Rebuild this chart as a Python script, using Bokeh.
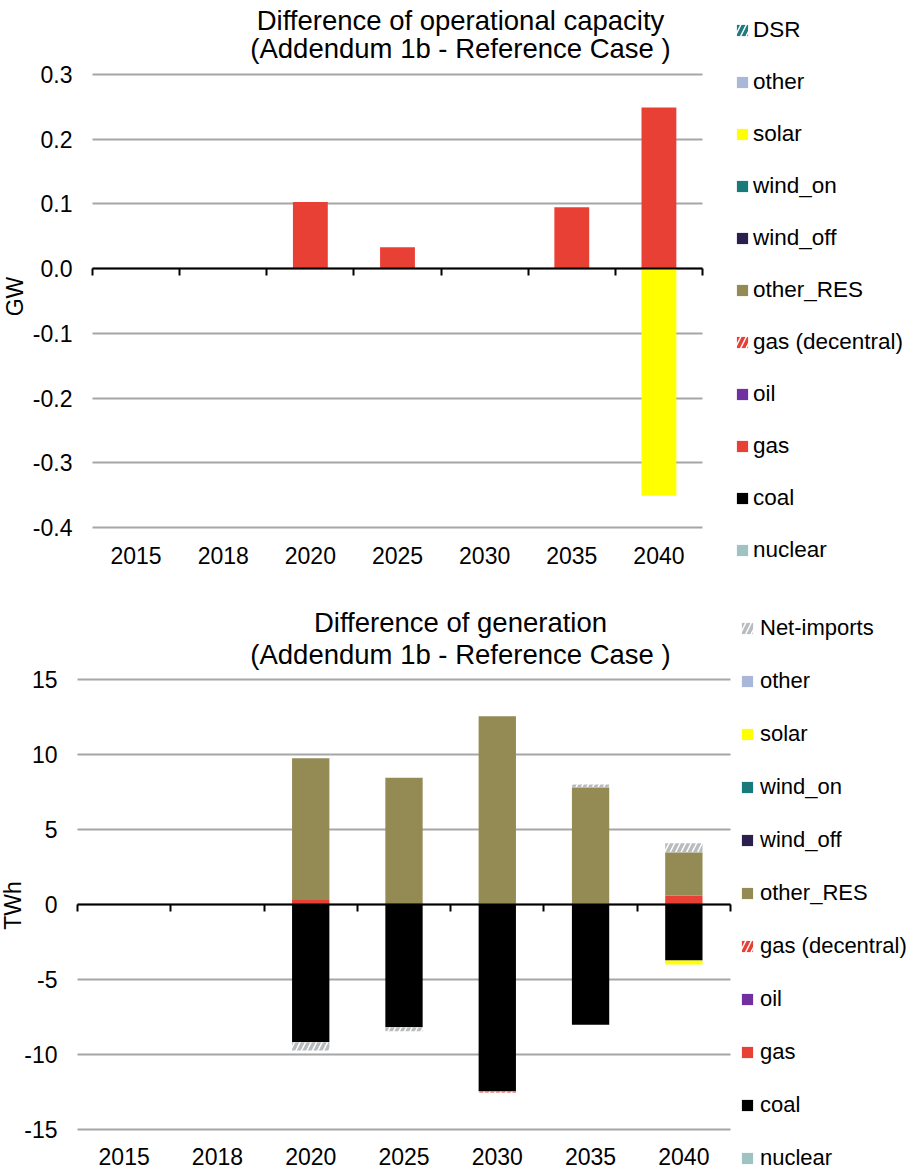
import numpy as np
from bokeh.plotting import figure
from bokeh.models import (Range1d, LinearAxis, FixedTicker, Legend, LegendItem, Label,
                          Grid, PrintfTickFormatter)
from bokeh.embed import file_html
from bokeh.resources import INLINE

years = ["2015", "2018", "2020", "2025", "2030", "2035", "2040"]

# ---- operational capacity difference (GW) ----
cap_nuclear = [0, 0, 0, 0, 0, 0, 0]
cap_coal = [0, 0, 0, 0, 0, 0, 0]
cap_gas = [0, 0, 0.103, 0.033, 0, 0.095, 0.249]
cap_oil = [0, 0, 0, 0, 0, 0, 0]
cap_gas_decentral = [0, 0, 0, 0, 0, 0, 0]
cap_other_res = [0, 0, 0, 0, 0, 0, 0]
cap_wind_off = [0, 0, 0, 0, 0, 0, 0]
cap_wind_on = [0, 0, 0, 0, 0, 0, 0]
cap_solar = [0, 0, 0, 0, 0, 0, -0.351]
cap_other = [0, 0, 0, 0, 0, 0, 0]
cap_dsr = [0, 0, 0, 0, 0, 0, 0]
cap_ticks = [-0.4, -0.3, -0.2, -0.1, 0.0, 0.1, 0.2, 0.3]

# ---- generation difference (TWh) ----
gen_nuclear = [0, 0, 0, 0, 0, 0, 0]
gen_coal = [0, 0, -9.18, -8.18, -12.47, -8.02, -3.73]
gen_gas = [0, 0, 0.3, 0.1, 0, 0, 0.6]
gen_oil = [0, 0, 0, 0, 0, 0, 0]
gen_gas_decentral = [0, 0, 0, 0, -0.06, 0, 0]
gen_other_res = [0, 0, 9.45, 8.35, 12.55, 7.82, 2.89]
gen_wind_off = [0, 0, 0, 0, 0, 0, 0]
gen_wind_on = [0, 0, 0, 0, 0, 0, 0]
gen_solar = [0, 0, 0, 0, 0, 0, -0.27]
gen_other = [0, 0, 0, 0, 0, 0, 0]
gen_net_imports = [0, 0, -0.55, -0.27, 0, 0.18, 0.6]
gen_ticks = [-15, -10, -5, 0, 5, 10, 15]

title_top = ["Difference of operational capacity", "(Addendum 1b - Reference Case )"]
title_bottom = ["Difference of generation", "(Addendum 1b - Reference Case )"]

STYLE = {
    "nuclear": ("#9fc3c3", None),
    "coal": ("#000000", None),
    "gas": ("#e94035", None),
    "oil": ("#7030a0", None),
    "gas (decentral)": ("#e94035", "hatch"),
    "other_RES": ("#948a54", None),
    "wind_off": ("#2b1f4d", None),
    "wind_on": ("#187a7a", None),
    "solar": ("#ffff00", None),
    "other": ("#a9b8d8", None),
    "DSR": ("#217a80", "hatch"),
    "Net-imports": ("#b8bcbe", "hatch"),
}

FONT = "Liberation Sans"
W = 910
LABEL_H = 26


def make_chart(names, data, ylim, ticks, fmt, ylabel, titles, H, fx0, fx1, fy0, fy1,
               title_base, ylabel_pos, legend_x, legend_top, legend_step, legend_standoff,
               legend_font, label_standoff):
    n = len(years)
    sx = (fx1 - fx0) / n                      # px per category
    sy = (fy1 - fy0) / (ylim[1] - ylim[0])    # px per value unit

    def X(px):
        return (px - fx0) / sx

    def Y(py):
        return ylim[1] - (py - fy0) / sy

    p = figure(width=W, height=H, x_range=Range1d(X(0), X(W)), y_range=Range1d(Y(H), Y(0)),
               output_backend="svg", toolbar_location=None, title=None,
               x_axis_location=None, y_axis_location=None,
               min_border_left=0, min_border_right=0, min_border_top=0, min_border_bottom=0)
    p.outline_line_color = None
    p.xgrid.visible = False
    p.ygrid.visible = False

    centers = list(np.arange(n) + 0.5)
    bounds = list(np.arange(n + 1).astype(float))

    p.add_layout(Grid(dimension=1, ticker=FixedTicker(ticks=ticks), cross_bounds=(0, n),
                      grid_line_color="#a6a6a6", grid_line_width=2))

    yax = LinearAxis(fixed_location=0, ticker=FixedTicker(ticks=ticks),
                     formatter=PrintfTickFormatter(format=fmt),
                     axis_line_color=None, major_tick_line_color=None, minor_tick_line_color=None,
                     major_tick_out=0, major_tick_in=0, major_label_standoff=20,
                     major_label_text_font=FONT, major_label_text_font_size="23px",
                     major_label_text_color="black")
    p.add_layout(yax, "left")

    xax = LinearAxis(fixed_location=ylim[0], ticker=FixedTicker(ticks=centers),
                     major_label_overrides={float(c): y for c, y in zip(centers, years)},
                     axis_line_color=None, major_tick_line_color=None, minor_tick_line_color=None,
                     major_tick_out=0, major_tick_in=0, major_label_standoff=label_standoff,
                     major_label_text_font=FONT, major_label_text_font_size="23px",
                     major_label_text_color="black")
    p.add_layout(xax, "below")

    zax = LinearAxis(fixed_location=0, bounds=(0, n), ticker=FixedTicker(ticks=bounds),
                     major_label_overrides={float(b): "" for b in bounds},
                     axis_line_color="black", axis_line_width=2,
                     major_tick_line_color="black", major_tick_line_width=2,
                     major_tick_in=0, major_tick_out=7, minor_tick_line_color=None)
    p.add_layout(zax, "below")

    pos_base = np.zeros(n)
    neg_base = np.zeros(n)
    items = []
    for name in names:
        v = np.array(data[name], dtype=float)
        color, hatch = STYLE[name]
        pos = np.clip(v, 0, None)
        neg = np.clip(v, None, 0)
        if hatch:
            kw = dict(fill_color="white", hatch_color=color, hatch_pattern="right_diagonal_line",
                      hatch_scale=11, hatch_weight=3.5, line_color=None)
        else:
            kw = dict(fill_color=color, line_color=None)
        r = p.vbar(x=centers, width=0.4, bottom=list(pos_base), top=list(pos_base + pos), **kw)
        p.vbar(x=centers, width=0.4, bottom=list(neg_base + neg), top=list(neg_base), **kw)
        pos_base = pos_base + pos
        neg_base = neg_base + neg
        items.append(LegendItem(label=name, renderers=[r]))

    k = len(items)
    spacing = legend_step - LABEL_H
    legend_bottom = legend_top + k * LABEL_H + (k - 1) * spacing
    legend = Legend(items=list(reversed(items)),
                    location=(legend_x, H - legend_bottom),
                    glyph_width=14, glyph_height=14, label_height=LABEL_H, spacing=spacing,
                    padding=0, margin=0, border_line_color=None, background_fill_alpha=0,
                    label_text_font=FONT, label_text_font_size=legend_font,
                    label_standoff=legend_standoff, label_text_color="black")
    p.add_layout(legend)

    for txt, base in zip(titles, title_base):
        p.add_layout(Label(x=X(460), y=Y(base), text=txt,
                           text_align="center", text_baseline="alphabetic", text_font=FONT,
                           text_font_size="27.5px", text_color="black"))
    p.add_layout(Label(x=X(ylabel_pos[0]), y=Y(ylabel_pos[1]), text=ylabel, angle=np.pi / 2,
                       text_align="center", text_baseline="middle", text_font=FONT,
                       text_font_size="23px", text_color="black"))
    return p


cap_names = ["nuclear", "coal", "gas", "oil", "gas (decentral)", "other_RES", "wind_off",
             "wind_on", "solar", "other", "DSR"]
cap_data = {"nuclear": cap_nuclear, "coal": cap_coal, "gas": cap_gas, "oil": cap_oil,
            "gas (decentral)": cap_gas_decentral, "other_RES": cap_other_res,
            "wind_off": cap_wind_off, "wind_on": cap_wind_on, "solar": cap_solar,
            "other": cap_other, "DSR": cap_dsr}
gen_names = ["nuclear", "coal", "gas", "oil", "gas (decentral)", "other_RES", "wind_off",
             "wind_on", "solar", "other", "Net-imports"]
gen_data = {"nuclear": gen_nuclear, "coal": gen_coal, "gas": gen_gas, "oil": gen_oil,
            "gas (decentral)": gen_gas_decentral, "other_RES": gen_other_res,
            "wind_off": gen_wind_off, "wind_on": gen_wind_on, "solar": gen_solar,
            "other": gen_other, "Net-imports": gen_net_imports}

p1 = make_chart(cap_names, cap_data, (-0.4, 0.3), cap_ticks, "%.1f", "GW", title_top,
                H=584, fx0=92, fx1=702, fy0=74, fy1=527,
                title_base=(20, 48), ylabel_pos=(14, 296), legend_x=735, legend_top=17,
                legend_step=52, legend_standoff=4, legend_font="22.5px", label_standoff=19)
p2 = make_chart(gen_names, gen_data, (-15, 15), gen_ticks, "%d", "TWh", title_bottom,
                H=585, fx0=77, fx1=730, fy0=95, fy1=545,
                title_base=(38, 70), ylabel_pos=(12, 321), legend_x=740, legend_top=31,
                legend_step=53, legend_standoff=6, legend_font="22px", label_standoff=18)

open("out.html", "w").write(file_html([p1, p2], INLINE))
